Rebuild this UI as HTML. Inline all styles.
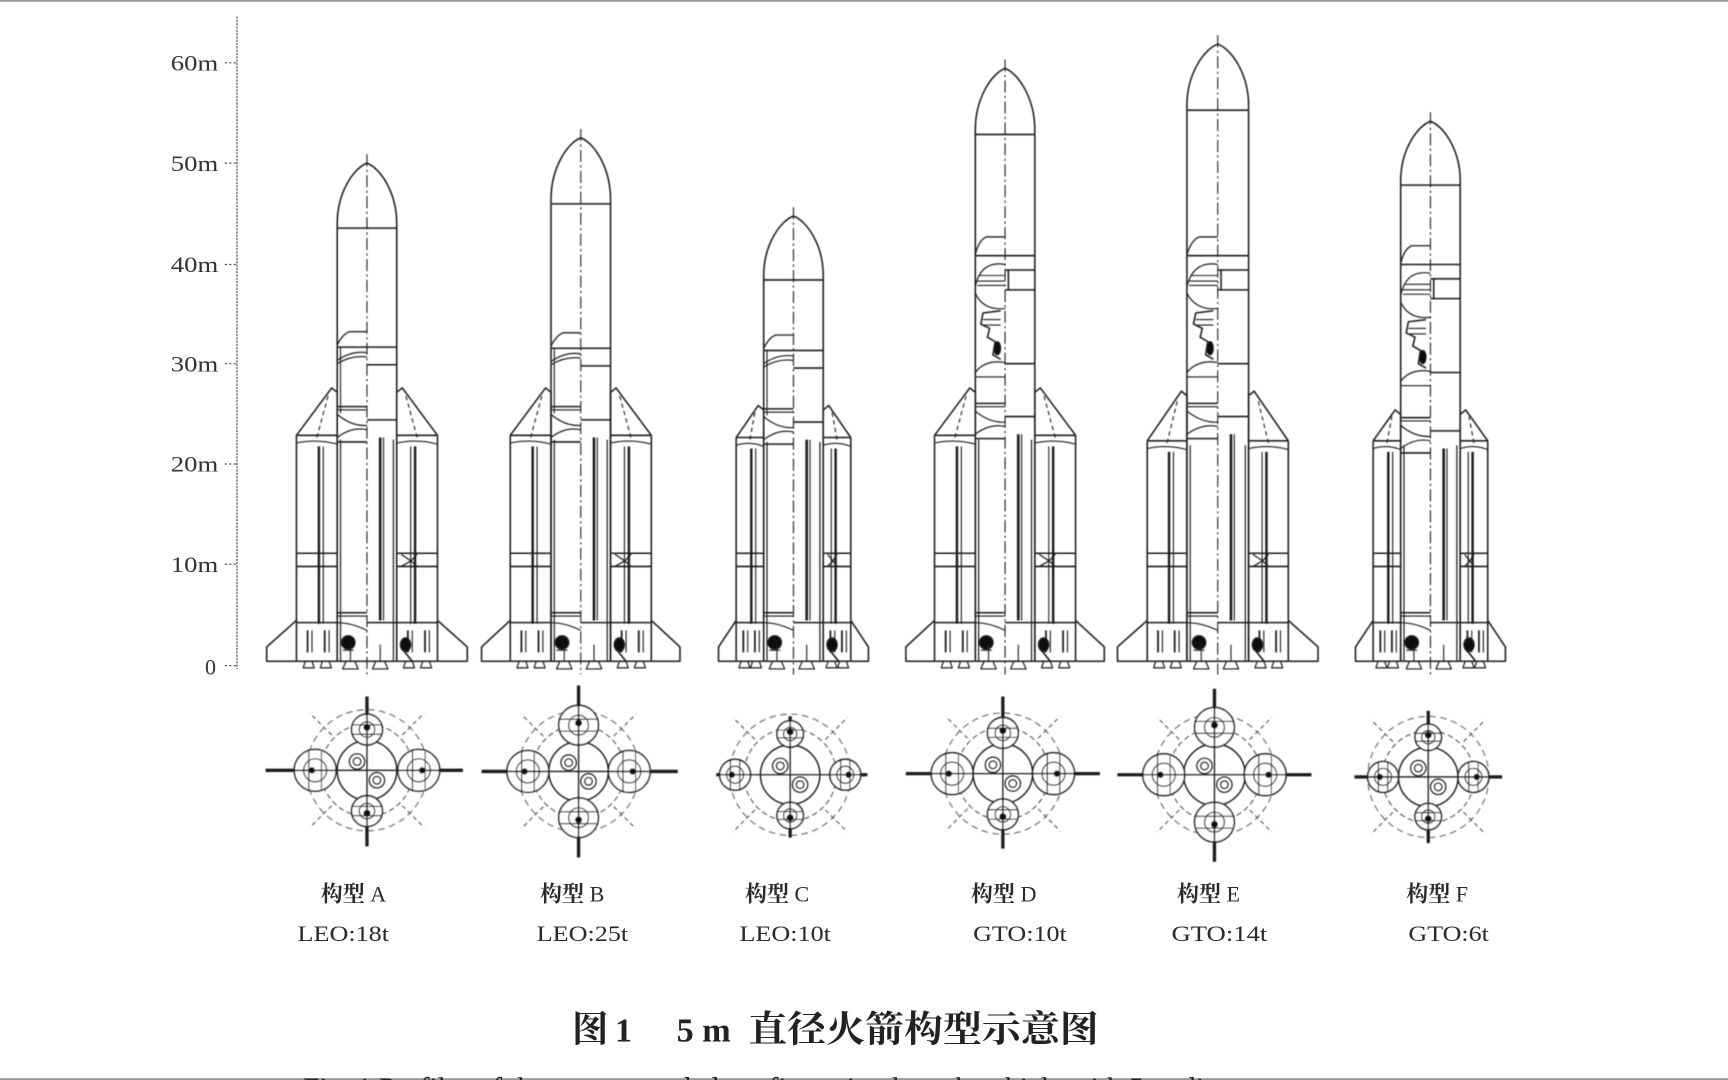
<!DOCTYPE html>
<html><head><meta charset="utf-8"><style>
html,body{margin:0;padding:0;background:#fff;width:1728px;height:1080px;overflow:hidden}
svg{display:block}
</style></head><body>
<svg id="s" width="1728" height="1080" viewBox="0 0 1568 980" preserveAspectRatio="none" xmlns="http://www.w3.org/2000/svg">
<defs><filter id="bl" x="-5%" y="-5%" width="110%" height="110%"><feGaussianBlur stdDeviation="0.55"/></filter></defs>
<rect x="0" y="0" width="1568" height="980" fill="#fff"/>
<rect x="0" y="0" width="1568" height="1.6" fill="#999"/>
<rect x="0" y="978.3" width="1568" height="1.7" fill="#999"/>
<g id="axis" stroke="#555" stroke-width="1.1" fill="none">
<line x1="215" y1="15" x2="215" y2="607" stroke-dasharray="2 1"/>
<line x1="204" y1="57" x2="214" y2="57" stroke-dasharray="2 2"/>
<line x1="204" y1="148" x2="214" y2="148" stroke-dasharray="2 2"/>
<line x1="204" y1="240" x2="214" y2="240" stroke-dasharray="2 2"/>
<line x1="204" y1="330" x2="214" y2="330" stroke-dasharray="2 2"/>
<line x1="204" y1="421" x2="214" y2="421" stroke-dasharray="2 2"/>
<line x1="204" y1="512" x2="214" y2="512" stroke-dasharray="2 2"/>
<line x1="204" y1="604" x2="214" y2="604" stroke-dasharray="2 2"/>
</g>
<g font-family="'Liberation Serif','Noto Serif CJK SC',serif" font-size="20" fill="#333" text-anchor="end">
<text x="198" y="64" textLength="43" lengthAdjust="spacingAndGlyphs">60m</text>
<text x="198" y="155" textLength="43" lengthAdjust="spacingAndGlyphs">50m</text>
<text x="198" y="247" textLength="43" lengthAdjust="spacingAndGlyphs">40m</text>
<text x="198" y="337" textLength="43" lengthAdjust="spacingAndGlyphs">30m</text>
<text x="198" y="428" textLength="43" lengthAdjust="spacingAndGlyphs">20m</text>
<text x="198" y="519" textLength="43" lengthAdjust="spacingAndGlyphs">10m</text>
<text x="196" y="612">0</text>
</g>
<g id="draw" stroke="#1c1c1c" stroke-width="1.4" fill="none" stroke-linejoin="round" filter="url(#bl)"></g>
<g font-family="'Liberation Serif','Noto Serif CJK SC',serif" font-size="20" fill="#2a2a2a">
<text x="291" y="818"><tspan font-weight="bold">构型</tspan> A</text>
<text x="490" y="818"><tspan font-weight="bold">构型</tspan> B</text>
<text x="676" y="818"><tspan font-weight="bold">构型</tspan> C</text>
<text x="881" y="818"><tspan font-weight="bold">构型</tspan> D</text>
<text x="1068" y="818"><tspan font-weight="bold">构型</tspan> E</text>
<text x="1276" y="818"><tspan font-weight="bold">构型</tspan> F</text>
<text x="270" y="854" textLength="83" lengthAdjust="spacingAndGlyphs">LEO:18t</text>
<text x="487" y="854" textLength="83" lengthAdjust="spacingAndGlyphs">LEO:25t</text>
<text x="671" y="854" textLength="83" lengthAdjust="spacingAndGlyphs">LEO:10t</text>
<text x="883" y="854" textLength="85" lengthAdjust="spacingAndGlyphs">GTO:10t</text>
<text x="1063" y="854" textLength="87" lengthAdjust="spacingAndGlyphs">GTO:14t</text>
<text x="1278" y="854" textLength="73" lengthAdjust="spacingAndGlyphs">GTO:6t</text>
</g>
<g font-family="'Liberation Serif','Noto Serif CJK SC',serif" font-weight="bold" fill="#222">
<text x="519" y="945" font-size="33">图</text>
<text x="558" y="945" font-size="31">1</text>
<text x="614" y="945" font-size="31">5 m</text>
<text x="679" y="945" font-size="33" textLength="318" lengthAdjust="spacingAndGlyphs">直径火箭构型示意图</text>
</g>
<text x="275" y="997" font-family="'Liberation Serif',serif" font-size="28" fill="#222" textLength="890" lengthAdjust="spacingAndGlyphs">Fig. 1   Profiles of the recommended configuration launch vehicle with 5 m diameter</text>
</svg>
<script>
(function(){
var NS="http://www.w3.org/2000/svg";
var G=document.getElementById('draw');
function el(t,a,p){var e=document.createElementNS(NS,t);for(var k in a)e.setAttribute(k,a[k]);(p||G).appendChild(e);return e;}
function L(x1,y1,x2,y2,extra){var a={x1:x1,y1:y1,x2:x2,y2:y2};if(extra)for(var k in extra)a[k]=extra[k];return el('line',a);}
function P(d,extra){var a={d:d};if(extra)for(var k in extra)a[k]=extra[k];return el('path',a);}
function C(x,y,r,extra){var a={cx:x,cy:y,r:r};if(extra)for(var k in extra)a[k]=extra[k];return el('circle',a);}
var B=600;
function booster(Bo,Bi,ba,bs,fe,side,cx){
  var bw=Bi-Bo;
  var ax = side<0 ? Bi-5 : Bo+5;
  var flatEnd = side<0 ? Bi : Bo;
  var outer = side<0 ? Bo : Bi;
  var inner = side<0 ? Bi : Bo;
  P('M'+outer+','+bs+' L'+ax+','+ba+' L'+flatEnd+','+(ba+4)+' L'+inner+','+bs);
  var mid = (Bo+Bi)/2;
  L(mid, bs+2, ax + (side<0?-3:3), ba+6, {'stroke-dasharray':'4 3','stroke-width':1});
  L(Bo,bs,Bi,bs);
  P('M'+Bo+','+(bs+7)+' Q'+mid+','+(bs+3)+' '+Bi+','+(bs+8),{'stroke-width':1});
  L(Bo,bs,Bo,B); L(Bi,bs,Bi,B);
  L(inner - side*3, bs+4, inner - side*3, B, {'stroke-width':1.1});
  var tx = side<0 ? Bo+bw*0.55 : Bi-bw*0.55;
  L(tx, bs+10, tx, 566, {'stroke-width':2.2});
  L(tx+4*(side<0?1:-1), bs+10, tx+4*(side<0?1:-1), 566, {'stroke-width':1});
  L(Bo,502,Bi,502); L(Bo,514,Bi,514);
  if(side>0){
    P('M'+(Bo+4)+',503 L'+(Bo+bw*0.35)+',509 L'+(Bo+4)+',514',{'stroke-width':1.1});
    P('M'+(Bo+bw*0.5)+',503 L'+(Bo+bw*0.35)+',509 L'+(Bo+bw*0.5)+',514',{'stroke-width':1.1});
  }
  L(Bo,565,Bi,565);
  L(Bo,B,Bi,B);
  if(side<0){
    P('M'+Bo+',563 L'+(Bo-fe)+',587 L'+(Bo-fe)+','+B+' L'+Bo+','+B);
  } else {
    P('M'+Bi+',563 L'+(Bi+fe)+',587 L'+(Bi+fe)+','+B+' L'+Bi+','+B);
  }
  var n1 = Bo+bw*0.3, n2 = Bo+bw*0.72;
  [n1,n2].forEach(function(n){
    L(n-1,572,n-1,592,{'stroke-width':1.6});
    L(n+3,572,n+3,592,{'stroke-width':1});
    P('M'+(n-3)+','+(B)+' L'+(n-5)+','+(B+6)+' L'+(n+5)+','+(B+6)+' L'+(n+3)+','+B,{'stroke-width':1.1});
  });
}
function rocket(r){
  var cx=r.cx,hw=r.hw,Lx=cx-hw,Rx=cx+hw;
  var h=r.fb-r.tip;
  P('M'+Lx+','+r.fb+' L'+Lx+','+(r.fb-4)+' C'+Lx+','+(r.tip+h*0.45)+' '+(cx-hw*0.45)+','+(r.tip+h*0.08)+' '+cx+','+r.tip+
    ' C'+(cx+hw*0.45)+','+(r.tip+h*0.08)+' '+Rx+','+(r.tip+h*0.45)+' '+Rx+','+(r.fb-4)+' L'+Rx+','+r.fb);
  L(Lx,r.fb,Rx,r.fb);
  L(Lx,r.fb,Lx,B); L(Rx,r.fb,Rx,B); L(Lx,B,Rx,B);
  L(cx,r.tip-8,cx,B+12,{'stroke-dasharray':'11 3 2 3','stroke-width':1});
  var u=r.u;
  if(r.type==='A'){
    P('M'+Lx+','+(u-2)+' Q'+(cx-22)+','+(u-12)+' '+(cx-16)+','+(u-14)+' L'+cx+','+(u-14),{'stroke-width':1.2});
    L(Lx,u,Rx,u);
    P('M'+Lx+','+(u+12)+' Q'+(cx-14)+','+(u+3)+' '+cx+','+(u+5),{'stroke-width':1.1});
    P('M'+Lx+','+(u+15)+' Q'+(cx-14)+','+(u+7)+' '+cx+','+(u+9),{'stroke-width':1.1});
    L(cx,u+16,Rx,u+16);
    L(Lx+3,u,Lx+3,r.it,{'stroke-width':1});
  } else {
    P('M'+Lx+','+(u-1)+' Q'+(cx-24)+','+(u-14)+' '+(cx-17)+','+(u-17)+' L'+cx+','+(u-17),{'stroke-width':1.2});
    L(Lx,u,Rx,u);
    L(cx,u+13,Rx,u+13); L(cx,u+31,Rx,u+31); L(cx+3,u+13,cx+3,u+31);
    P('M'+Lx+','+(u+28)+' Q'+(cx-22)+','+(u+4)+' '+cx+','+(u+8),{'stroke-width':1.1});
    L(Lx+4,u+18,cx,u+18,{'stroke-width':1});
    L(Lx+2,u+23,cx,u+23,{'stroke-width':1});
    L(Lx+2,u+27,cx,u+27,{'stroke-width':1});
    P('M'+Lx+','+(u+34)+' Q'+(cx-20)+','+(u+50)+' '+cx+','+(u+48),{'stroke-width':1.1});
    P('M'+(cx-4)+','+(u+50)+' L'+(cx-20)+','+(u+52)+' L'+(cx-22)+','+(u+62)+' L'+(cx-14)+','+(u+66)+' L'+(cx-16)+','+(u+74)+' L'+(cx-9)+','+(u+78)+' L'+(cx-11)+','+(u+90)+' L'+(cx-4)+','+(u+94),{'stroke-width':1.4});
    L(cx-20,u+58,cx-4,u+58,{'stroke-width':1}); L(cx-19,u+63,cx-4,u+63,{'stroke-width':1});
    el('ellipse',{cx:cx-7,cy:u+84,rx:3,ry:6,fill:'#111','stroke-width':1});
    L(cx,u+98,Rx,u+98);
    P('M'+Lx+','+(u+106)+' Q'+(cx-18)+','+(u+94)+' '+cx+','+(u+97),{'stroke-width':1.1});
    L(Lx,u+110,cx,u+110,{'stroke-width':1});
  }
  var it=r.it;
  L(Lx,it-6,cx,it-6); L(Lx,it-3,cx,it-3,{'stroke-width':1});
  L(cx,it+6,Rx,it+6);
  P('M'+Lx+','+(it+1)+' Q'+(cx-14)+','+(it+12)+' '+cx+','+(it+11),{'stroke-width':1.1});
  P('M'+Lx+','+(it+22)+' Q'+(cx-14)+','+(it+12)+' '+cx+','+(it+15),{'stroke-width':1.1});
  L(Lx,it+26,cx,it+26);
  var rx=cx+12;
  L(rx,it+22,rx,563,{'stroke-width':2.4});
  L(rx+3,it+22,rx+3,563,{'stroke-width':1});
  L(Lx,556,cx,556); L(Lx,559,cx,559,{'stroke-width':1});
  P('M'+Lx+',565 Q'+(cx-14)+',565 '+cx+',572',{'stroke-width':1});
  L(cx,565,Rx,565);
  el('ellipse',{cx:cx-17,cy:583,rx:6,ry:6,fill:'#111'});
  L(cx-22,590,cx-12,590,{'stroke-width':1});
  [cx-15,cx+12].forEach(function(n){
    P('M'+(n-4)+','+B+' L'+(n-7)+','+(B+7)+' L'+(n+7)+','+(B+7)+' L'+(n+4)+','+B,{'stroke-width':1.1});
    L(n,585,n,B,{'stroke-width':1});
  });
  booster(Lx-r.bw,Lx,r.ba,r.bs,r.fe,-1,cx);
  booster(Rx,Rx+r.bw,r.ba,r.bs,r.fe,1,cx);
  el('ellipse',{cx:Rx+8,cy:585,rx:4.5,ry:6,fill:'#111'});
  P('M'+(Rx+6)+',590 L'+(Rx+14)+',600',{'stroke-width':1.5});
}
var R=[
 {cx:333,hw:27,tip:148,fb:207,bw:37,ba:352,bs:395,fe:27,type:'A',u:315,it:375},
 {cx:527,hw:27,tip:125,fb:185,bw:37,ba:352,bs:395,fe:26,type:'A',u:316,it:375},
 {cx:720,hw:27,tip:196,fb:254,bw:25,ba:368,bs:397,fe:16,type:'A',u:318,it:377},
 {cx:912,hw:27,tip:62,fb:122,bw:37,ba:352,bs:395,fe:26,type:'D',u:232,it:372},
 {cx:1105,hw:28,tip:40,fb:100,bw:36,ba:355,bs:400,fe:27,type:'D',u:232,it:372},
 {cx:1298,hw:27,tip:110,fb:168,bw:25,ba:372,bs:400,fe:16,type:'D',u:240,it:385}
];
R.forEach(rocket);
function plan(p){
  var cx=p.cx,cy=p.cy;
  C(cx,cy,42,{'stroke-dasharray':'5 3','stroke-width':1,stroke:'#555'});
  C(cx,cy,55,{'stroke-dasharray':'6 4','stroke-width':1,stroke:'#666'});
  [[-1,-1],[1,-1],[-1,1],[1,1]].forEach(function(d){
    L(cx+d[0]*32,cy+d[1]*32,cx+d[0]*52,cy+d[1]*52,{'stroke-dasharray':'4 3','stroke-width':1,stroke:'#555'});
  });
  L(p.xl,cy,p.xr,cy,{'stroke-width':1.2});
  L(cx,p.yt,cx,p.yb,{'stroke-width':1.2});
  L(p.xl,cy,cx-p.dx-p.rs,cy,{'stroke-width':3});
  L(cx+p.dx+p.rs,cy,p.xr,cy,{'stroke-width':3});
  L(cx,p.yt,cx,cy-p.dy-p.rt,{'stroke-width':3});
  L(cx,cy+p.dy+p.rt,cx,p.yb,{'stroke-width':3});
  C(cx,cy,p.hw,{'stroke-width':1.3});
  C(cx-9,cy-8,7,{'stroke-width':1.1}); C(cx-9,cy-8,3.5,{'stroke-width':1});
  C(cx+9,cy+9,7,{'stroke-width':1.1}); C(cx+9,cy+9,3.5,{'stroke-width':1});
  [-1,1].forEach(function(s){
    var bx=cx+s*p.dx;
    C(bx,cy,p.rs,{'stroke-width':1.4,fill:'#fff'});
    C(bx,cy,p.rs*0.55,{'stroke-width':1.1});
    L(bx-p.rs*0.3,cy-p.rs,bx-p.rs*0.3,cy+p.rs,{'stroke-width':1.1});
    L(bx+p.rs*0.3,cy-p.rs*0.9,bx+p.rs*0.3,cy+p.rs*0.9,{'stroke-width':1});
    L(bx-p.rs,cy,bx+p.rs,cy,{'stroke-width':1.4});
    C(bx+s*3,cy,2.2,{fill:'#111'});
  });
  [-1,1].forEach(function(s){
    var by=cy+s*p.dy;
    C(cx,by,p.rt,{'stroke-width':1.4,fill:'#fff'});
    C(cx,by,p.rt*0.5,{'stroke-width':1.1});
    L(cx-p.rt,by-p.rt*0.3,cx+p.rt,by-p.rt*0.3,{'stroke-width':1});
    L(cx-p.rt*0.9,by+p.rt*0.3,cx+p.rt*0.9,by+p.rt*0.3,{'stroke-width':1});
    L(cx,by-p.rt,cx,by+p.rt,{'stroke-width':1.4});
    C(cx,by+s*2,2.5,{fill:'#111'});
  });
}
var PL=[
 {cx:333,cy:699,xl:241,xr:420,yt:632,yb:768,dx:47,rs:19,dy:37,rt:14,hw:27},
 {cx:525,cy:700,xl:437,xr:615,yt:622,yb:778,dx:46,rs:19,dy:42,rt:18,hw:27},
 {cx:717,cy:703,xl:650,xr:787,yt:650,yb:760,dx:50,rs:14,dy:37,rt:12,hw:27},
 {cx:910,cy:702,xl:822,xr:998,yt:632,yb:770,dx:46,rs:19,dy:37,rt:14,hw:27},
 {cx:1102,cy:703,xl:1014,xr:1190,yt:625,yb:782,dx:46,rs:19,dy:43,rt:18,hw:28},
 {cx:1296,cy:705,xl:1229,xr:1363,yt:645,yb:765,dx:41,rs:14,dy:36,rt:12,hw:27}
];
PL.forEach(plan);
})();
</script>
</body></html>
